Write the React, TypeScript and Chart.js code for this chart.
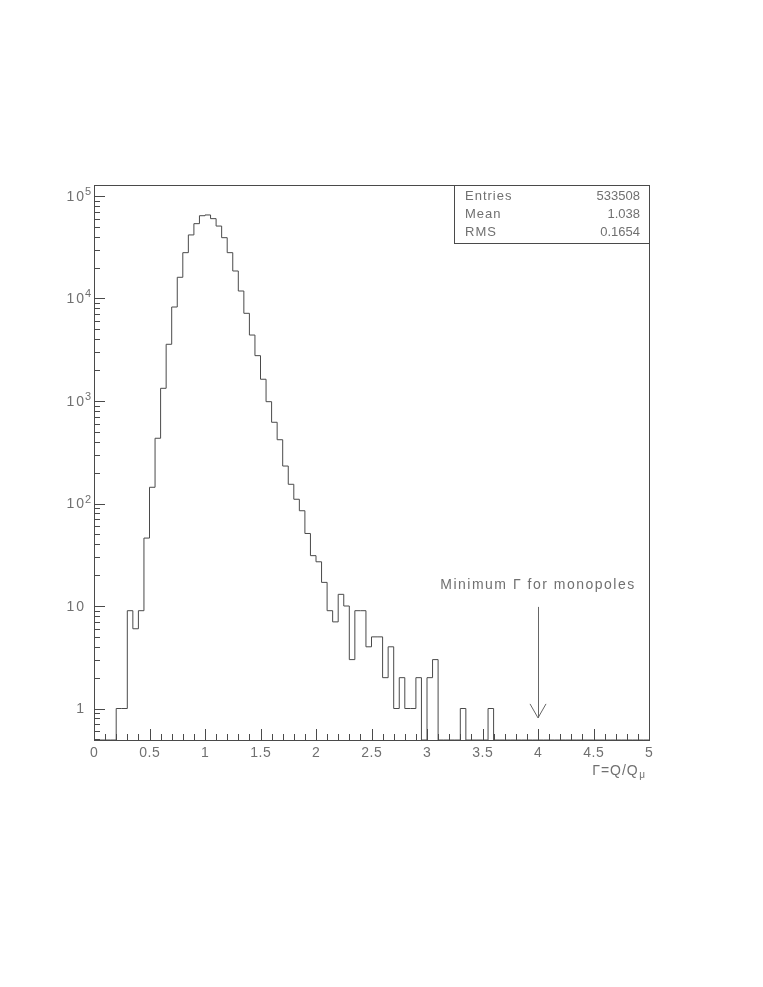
import React, { useEffect, useRef } from "react";
import { Chart, registerables } from "chart.js";

Chart.register(...registerables);

// ---- Data ----
const BIN_WIDTH = 0.05;
const X_MIN = 0;
const X_MAX = 5;
const Y_MIN = 0.493;
const Y_MAX = 128000;

// counts per 0.05 bin, from 0.00 to 5.00 (100 bins)
const COUNTS_0_TO_1 = [
  0, 0, 0, 0, 1, 1, 9, 6, 9, 46,
  144, 433, 1330, 3575, 8260, 16100, 28000, 41700, 53700, 64200,
];
const COUNTS_1_TO_2 = [
  65300, 60100, 50900, 39200, 28000, 18550, 11830, 7170, 4400, 2770,
  1630, 985, 620, 419, 232, 154, 110, 85, 51, 31,
];
const COUNTS_2_TO_3 = [
  27, 17, 9, 7, 13, 10, 3, 9, 9, 4,
  5, 5, 2, 4, 1, 2, 1, 1, 2, 0,
];
const COUNTS_3_TO_4 = [
  2, 3, 0, 0, 0, 0, 1, 0, 0, 0,
  0, 1, 0, 0, 0, 0, 0, 0, 0, 0,
];
const COUNTS_4_TO_5 = [
  0, 0, 0, 0, 0, 0, 0, 0, 0, 0,
  0, 0, 0, 0, 0, 0, 0, 0, 0, 0,
];

const X_TICK_VALUES = [0, 0.5, 1, 1.5, 2, 2.5, 3, 3.5, 4, 4.5, 5];
const X_TICK_LABELS = ["0", "0.5", "1", "1.5", "2", "2.5", "3", "3.5", "4", "4.5", "5"];
const Y_TICK_VALUES = [1, 10, 100, 1000, 10000, 100000];
const Y_TICK_BASE = ["1", "10", "10", "10", "10", "10"];
const Y_TICK_EXP = ["", "", "2", "3", "4", "5"];

const STAT_NAMES = ["Entries", "Mean", "RMS"];
const STAT_VALUES = ["533508", "1.038", "0.1654"];

const ANNOTATION_TEXT = "Minimum \u0393 for monopoles";
const ANNOTATION_X = 4;
const ANNOTATION_TEXT_Y = 14.6;
const ARROW_TOP_Y = 9.8;
const ARROW_TIP_Y = 0.81;

const AXIS_TITLE_MAIN = "\u0393=Q/Q";
const AXIS_TITLE_SUB = "\u03bc";

const COUNTS = [
  ...COUNTS_0_TO_1,
  ...COUNTS_1_TO_2,
  ...COUNTS_2_TO_3,
  ...COUNTS_3_TO_4,
  ...COUNTS_4_TO_5,
];

const FONT = "'Liberation Sans', Arial, sans-serif";
const TXT = "#707070";
const LINE = "#4a4a4a";

function setSpacing(ctx: any, px: number) {
  try {
    ctx.letterSpacing = px + "px";
  } catch (e) {}
}

const rootStylePlugin = {
  id: "rootStyle",
  afterDatasetsDraw(chart: any) {
    const { ctx, chartArea: a, scales } = chart;
    const xs = scales.x;
    const ys = scales.y;
    ctx.save();

    // frame
    ctx.strokeStyle = LINE;
    ctx.lineWidth = 1;
    ctx.strokeRect(Math.round(a.left) + 0.5, Math.round(a.top) + 0.5, Math.round(a.right - a.left), Math.round(a.bottom - a.top));

    // x ticks
    ctx.beginPath();
    for (let k = 0; k <= 50; k++) {
      const v = k / 10;
      const px = Math.round(xs.getPixelForValue(v)) + 0.5;
      const len = k % 5 === 0 ? 11 : 6;
      ctx.moveTo(px, a.bottom);
      ctx.lineTo(px, a.bottom - len);
    }
    // y ticks
    for (let d = -1; d <= 5; d++) {
      for (let m = 1; m <= 9; m++) {
        const v = m * Math.pow(10, d);
        if (v < Y_MIN || v > Y_MAX) continue;
        const py = Math.round(ys.getPixelForValue(v)) + 0.5;
        const len = m === 1 ? 11 : 6;
        ctx.moveTo(a.left, py);
        ctx.lineTo(a.left + len, py);
      }
    }
    ctx.stroke();

    // x tick labels
    ctx.fillStyle = TXT;
    ctx.font = "14px " + FONT;
    setSpacing(ctx, 0.6);
    ctx.textAlign = "center";
    ctx.textBaseline = "alphabetic";
    X_TICK_VALUES.forEach((v, i) => {
      const px = xs.getPixelForValue(v);
      ctx.fillText(X_TICK_LABELS[i], px + 0.3, a.bottom + 17);
    });

    // y tick labels
    Y_TICK_VALUES.forEach((v, i) => {
      const py = ys.getPixelForValue(v);
      ctx.font = "14px " + FONT;
      setSpacing(ctx, 2);
      ctx.textAlign = "right";
      ctx.textBaseline = "middle";
      ctx.fillText(Y_TICK_BASE[i], a.left - 8, py + 1);
      if (Y_TICK_EXP[i]) {
        ctx.font = "11px " + FONT;
        setSpacing(ctx, 0);
        ctx.textAlign = "left";
        ctx.textBaseline = "alphabetic";
        ctx.fillText(Y_TICK_EXP[i], a.left - 9, py - 1);
      }
    });

    // stats box
    const bw = 195;
    const bh = 58;
    ctx.fillStyle = "#fff";
    ctx.fillRect(a.right - bw, a.top, bw, bh);
    ctx.strokeStyle = LINE;
    ctx.strokeRect(Math.round(a.right - bw) + 0.5, Math.round(a.top) + 0.5, bw, bh);
    ctx.fillStyle = TXT;
    ctx.textBaseline = "middle";
    STAT_NAMES.forEach((name, i) => {
      const cy = a.top + 11 + i * 18;
      ctx.font = "13px " + FONT;
      setSpacing(ctx, 1);
      ctx.textAlign = "left";
      ctx.fillText(name, a.right - bw + 11, cy);
      ctx.font = "13px " + FONT;
      setSpacing(ctx, 0);
      ctx.textAlign = "right";
      ctx.fillText(STAT_VALUES[i], a.right - 9, cy);
    });

    // annotation text + arrow
    const ax = xs.getPixelForValue(ANNOTATION_X);
    ctx.font = "14px " + FONT;
    setSpacing(ctx, 1.5);
    ctx.textAlign = "center";
    ctx.textBaseline = "alphabetic";
    ctx.fillText(ANNOTATION_TEXT, ax, ys.getPixelForValue(ANNOTATION_TEXT_Y));

    const yTop = ys.getPixelForValue(ARROW_TOP_Y);
    const yTip = ys.getPixelForValue(ARROW_TIP_Y);
    ctx.strokeStyle = "#666";
    ctx.beginPath();
    ctx.moveTo(Math.round(ax) + 0.5, yTop);
    ctx.lineTo(Math.round(ax) + 0.5, yTip);
    ctx.moveTo(ax - 8, yTip - 14);
    ctx.lineTo(ax, yTip);
    ctx.lineTo(ax + 8, yTip - 14);
    ctx.stroke();

    // axis title
    ctx.font = "10px " + FONT;
    setSpacing(ctx, 0);
    const subW = ctx.measureText(AXIS_TITLE_SUB).width;
    const titleRight = a.right - 4;
    ctx.textAlign = "left";
    ctx.fillText(AXIS_TITLE_SUB, titleRight - subW, a.bottom + 38);
    ctx.font = "14px " + FONT;
    setSpacing(ctx, 1);
    ctx.textAlign = "right";
    ctx.fillText(AXIS_TITLE_MAIN, titleRight - subW - 0.5, a.bottom + 35);

    ctx.restore();
  },
};

export default function App() {
  const canvasRef = useRef<HTMLCanvasElement | null>(null);

  useEffect(() => {
    if (!canvasRef.current) return;
    const points: { x: number; y: number }[] = COUNTS.map((c, i) => ({
      x: X_MIN + i * BIN_WIDTH,
      y: c > 0 ? c : Y_MIN,
    }));
    const last = COUNTS[COUNTS.length - 1];
    points.push({ x: X_MAX, y: last > 0 ? last : Y_MIN });

    const chart = new Chart(canvasRef.current, {
      type: "line",
      data: {
        datasets: [
          {
            data: points,
            stepped: "before",
            borderColor: "#4a4a4a",
            borderWidth: 1,
            pointRadius: 0,
            fill: false,
            tension: 0,
          },
        ],
      },
      options: {
        animation: false,
        responsive: false,
        devicePixelRatio: 1,
        layout: { padding: { left: 94, top: 185, right: 114, bottom: 247 } },
        plugins: {
          legend: { display: false },
          tooltip: { enabled: false },
        },
        scales: {
          x: {
            type: "linear",
            min: X_MIN,
            max: X_MAX,
            grid: { display: false, drawTicks: false },
            border: { display: false },
            ticks: { display: false },
          },
          y: {
            type: "logarithmic",
            min: Y_MIN,
            max: Y_MAX,
            grid: { display: false, drawTicks: false },
            border: { display: false },
            ticks: { display: false },
          },
        },
      } as any,
      plugins: [rootStylePlugin],
    });
    return () => chart.destroy();
  }, []);

  return (
    <div style={{ position: "fixed", left: 0, top: 0, width: 763, height: 987, background: "#fff" }}>
      <canvas ref={canvasRef} width={763} height={987} style={{ display: "block", width: 763, height: 987 }} />
    </div>
  );
}
